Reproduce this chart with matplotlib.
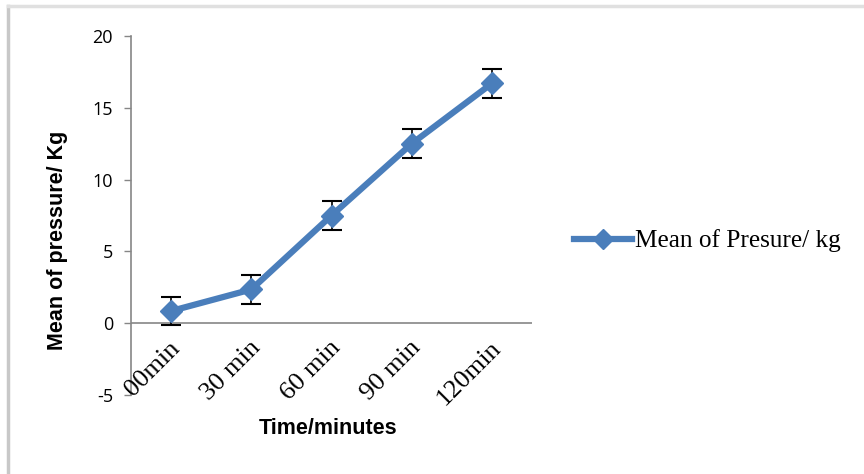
import matplotlib
matplotlib.use("Agg")
import matplotlib.pyplot as plt
from matplotlib.lines import Line2D

categories = ["00min", "30 min", "60 min", "90 min", "120min"]
values = [0.85, 2.35, 7.5, 12.5, 16.7]
errors = [1.0, 1.0, 1.0, 1.0, 1.0]
series_name = "Mean of Presure/ kg"
yticks = [-5, 0, 5, 10, 15, 20]

W, H = 864, 474
fig = plt.figure(figsize=(W/100, H/100), dpi=100)
ax = fig.add_axes([131/W, 1-395/H, (532-131)/W, (395-36)/H])

x = list(range(len(categories)))
color = "#4a7ebb"
ax.errorbar(x, values, yerr=errors, fmt="none", ecolor="black", elinewidth=1.2,
            capsize=7, capthick=1.5, zorder=2)
ax.plot(x, values, color=color, lw=4.5, marker="D", markersize=11, zorder=3,
        solid_capstyle="round")

ax.set_xlim(-0.5, len(categories) - 0.5)
ax.set_ylim(-5, 20)
ax.set_yticks(yticks)
ax.set_yticklabels([str(v) for v in yticks], family="Open Sans", fontsize=13)
ax.tick_params(axis="y", length=5, width=1, color="#868686", pad=8, direction="out")
ax.tick_params(axis="x", length=0)
ax.set_xticks(x)
ax.set_xticklabels([])

for s in ["top", "right", "bottom"]:
    ax.spines[s].set_visible(False)
ax.spines["left"].set_color("#868686")
ax.spines["left"].set_linewidth(1.2)
ax.axhline(0, color="#868686", lw=1.2, zorder=1)

for xi, lab in zip(x, categories):
    ax.text(xi + 0.07, -1.5, lab, rotation=45, ha="right", va="center",
            rotation_mode="anchor", family="Liberation Serif", fontsize=19,
            transform=ax.transData, clip_on=False)

fig.text(328/W, 1-428/H, "Time/minutes", ha="center", va="center",
         family="Liberation Sans", fontweight="bold", fontsize=15.5)
fig.text(57/W, 1-240/H, "Mean of pressure/ Kg", ha="center", va="center",
         rotation=90, family="Liberation Sans", fontweight="bold", fontsize=15.5)

# legend
handle = Line2D([0], [0], color=color, lw=4.5, marker="D", markersize=10)
fig.legend([handle], [series_name], loc="center left",
           bbox_to_anchor=(564/W, 1-241/H), frameon=False,
           prop={"family": "Liberation Serif", "size": 18.2},
           handlelength=2.3, handletextpad=0.1, borderaxespad=0)

# figure frame
fig.add_artist(Line2D([8/W, 8/W], [0, 1-6/H], color="#c8c8c8", lw=2.5,
                      transform=fig.transFigure))
fig.add_artist(Line2D([8/W, 1], [1-6/H, 1-6/H], color="#e0e0e0", lw=2.5,
                      transform=fig.transFigure))

fig.savefig("out.png", dpi=100)
